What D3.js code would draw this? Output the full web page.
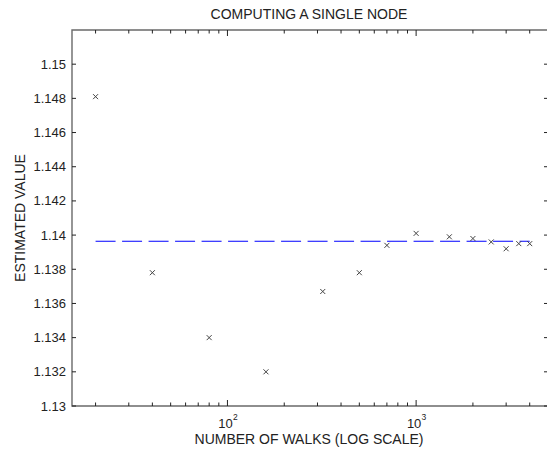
<!DOCTYPE html>
<html>
<head>
<meta charset="utf-8">
<script src="https://cdn.jsdelivr.net/npm/d3@7"></script>
<style>
body { margin: 0; background: #fff; }
text { font-family: "Liberation Sans", Arial, sans-serif; }
</style>
</head>
<body>
<div id="root"></div>
<script>
var width = 547;
var height = 454;

/* data */
var walks = [20, 40, 80, 160, 320, 500, 700, 1000, 1500, 2000, 2500, 3000, 3500, 4000];
var estimates = [1.1481, 1.1378, 1.1340, 1.1320, 1.1367, 1.1378, 1.1394, 1.1401, 1.1399, 1.1398, 1.1396, 1.1392, 1.1395, 1.1395];
var exactWalks = [20, 4000];
var exactValue = [1.13964, 1.13964];
var yTicks = [1.13, 1.132, 1.134, 1.136, 1.138, 1.14, 1.142, 1.144, 1.146, 1.148, 1.15];
var xMajor = [100, 1000];
var xMajorExp = ["2", "3"];

/* plot box (note: "top" is taken by window.top) */
var pLeft = 72, pRight = 548, pTop = 30, pBottom = 406;

var svg =
d3.select("#root")
.append("svg")
.attr("width", width)
.attr("height", height);

var x = d3.scaleLog()
.domain([15, 5000])
.range([pLeft, pRight]);

var y = d3.scaleLinear()
.domain([1.13, 1.152])
.range([pBottom, pTop]);

var axisColor = "#6a6a6a";

/* frame, no right side since it falls off the picture */
svg.append("path")
.attr("d", "M" + pRight + "," + pTop + "H" + pLeft + "V" + pBottom + "H" + pRight)
.attr("fill", "none")
.attr("stroke", axisColor)
.attr("stroke-width", 1.4);

/* x ticks, inward, top and bottom */
var xt = x.ticks().filter(function(d) { return d > 15 && d < 5000; });
xt.forEach(function(d) {
	var len = xMajor.indexOf(d) >= 0 ? 6 : 3.5;
	svg.append("line")
	.attr("x1", x(d)).attr("x2", x(d))
	.attr("y1", pBottom).attr("y2", pBottom - len)
	.attr("stroke", "#222").attr("stroke-width", 1);
	svg.append("line")
	.attr("x1", x(d)).attr("x2", x(d))
	.attr("y1", pTop).attr("y2", pTop + len)
	.attr("stroke", "#222").attr("stroke-width", 1);
});

/* y ticks + labels */
var fmt = d3.format("~g");
yTicks.forEach(function(d) {
	svg.append("line")
	.attr("x1", pLeft).attr("x2", pLeft + 4)
	.attr("y1", y(d)).attr("y2", y(d))
	.attr("stroke", "#222");
	svg.append("line")
	.attr("x1", pRight - 4).attr("x2", pRight)
	.attr("y1", y(d)).attr("y2", y(d))
	.attr("stroke", "#222");
	svg.append("text")
	.attr("x", pLeft - 6)
	.attr("y", y(d) + 4.5)
	.attr("text-anchor", "end")
	.attr("font-size", "13px")
	.attr("fill", "#222")
	.text(fmt(d));
});

/* 10^n labels */
xMajor.forEach(function(d, i) {
	svg.append("text")
	.attr("x", x(d) - 2)
	.attr("y", 428)
	.attr("text-anchor", "middle")
	.attr("font-size", "13px")
	.attr("fill", "#222")
	.text("10");
	svg.append("text")
	.attr("x", x(d) + 5.5)
	.attr("y", 420)
	.attr("font-size", "8.5px")
	.attr("fill", "#222")
	.text(xMajorExp[i]);
});

/* reference value */
svg.append("path")
.datum(exactWalks.map(function(d, i) { return [d, exactValue[i]]; }))
.attr("fill", "none")
.attr("stroke", "#0000ff")
.attr("stroke-width", 1.2)
.attr("stroke-dasharray", "20,6.5")
.attr("d", d3.line().x(function(d) { return x(d[0]); }).y(function(d) { return y(d[1]); }));

/* x markers */
var s = 2.5;
svg.append("g")
.selectAll("path")
.data(walks.map(function(d, i) { return [d, estimates[i]]; }))
.enter()
.append("path")
.attr("d", function(d) {
	var cx = x(d[0]), cy = y(d[1]);
	return "M" + (cx - s) + "," + (cy - s) + "L" + (cx + s) + "," + (cy + s) +
		"M" + (cx - s) + "," + (cy + s) + "L" + (cx + s) + "," + (cy - s);
})
.attr("stroke", "#444")
.attr("stroke-width", 1)
.attr("fill", "none");

/* titles */
svg.append("text")
.attr("x", 309)
.attr("y", 19)
.attr("text-anchor", "middle")
.attr("font-size", "14px")
.attr("fill", "#222")
.text("COMPUTING A SINGLE NODE");

svg.append("text")
.attr("x", 309)
.attr("y", 444)
.attr("text-anchor", "middle")
.attr("font-size", "14px")
.attr("fill", "#222")
.text("NUMBER OF WALKS (LOG SCALE)");

svg.append("text")
.attr("transform", "translate(25," + ((pTop + pBottom) / 2) + ") rotate(-90)")
.attr("text-anchor", "middle")
.attr("font-size", "14px")
.attr("fill", "#222")
.text("ESTIMATED VALUE");
</script>
</body>
</html>
